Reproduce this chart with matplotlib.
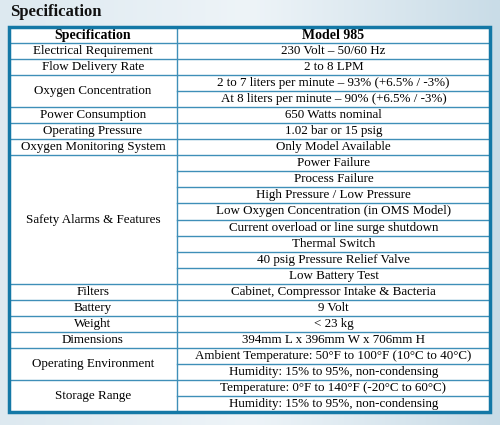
import matplotlib
matplotlib.use("Agg")
import matplotlib.pyplot as plt
import numpy as np

title = "Specification"
header = ["Specification", "Model 985"]
specs = ["Electrical Requirement", "Flow Delivery Rate", "Oxygen Concentration",
         "Power Consumption", "Operating Pressure", "Oxygen Monitoring System",
         "Safety Alarms & Features", "Filters", "Battery", "Weight", "Dimensions",
         "Operating Environment", "Storage Range"]
values = [
    ["230 Volt – 50/60 Hz"],
    ["2 to 8 LPM"],
    ["2 to 7 liters per minute – 93% (+6.5% / -3%)", "At 8 liters per minute – 90% (+6.5% / -3%)"],
    ["650 Watts nominal"],
    ["1.02 bar or 15 psig"],
    ["Only Model Available"],
    ["Power Failure", "Process Failure", "High Pressure / Low Pressure",
     "Low Oxygen Concentration (in OMS Model)", "Current overload or line surge shutdown",
     "Thermal Switch", "40 psig Pressure Relief Valve", "Low Battery Test"],
    ["Cabinet, Compressor Intake & Bacteria"],
    ["9 Volt"],
    ["< 23 kg"],
    ["394mm L x 396mm W x 706mm H"],
    ["Ambient Temperature: 50°F to 100°F (10°C to 40°C)", "Humidity: 15% to 95%, non-condensing"],
    ["Temperature: 0°F to 140°F (-20°C to 60°C)", "Humidity: 15% to 95%, non-condensing"],
]

W, H = 500, 425
fig = plt.figure(figsize=(W/100, H/100), dpi=100)
ax = fig.add_axes([0, 0, 1, 1])
ax.set_xlim(0, W); ax.set_ylim(H, 0); ax.axis("off")

grad = np.linspace(0, 1, 256).reshape(1, -1)
from matplotlib.colors import LinearSegmentedColormap
cm = LinearSegmentedColormap.from_list("bg", ["#dde9f0", "#eef4f8", "#c9dce7"])
ax.imshow(grad, extent=[0, W, H, 0], aspect="auto", cmap=cm, zorder=0)

font = "Liberation Serif"
ax.text(10, 12, title, fontsize=12, fontweight="bold", family=font, va="center", ha="left", color="#111")

L, R, T, B, C = 9, 490, 27, 412, 177
nrows = 1 + sum(len(v) for v in values)
rh = (B - T) / nrows
ax.add_patch(plt.Rectangle((L, T), R-L, B-T, facecolor="white", edgecolor="none", zorder=1))
grid = "#3f8fb8"
fs = 9.4
y = T
ax.text((L+C)/2, y+rh/2, header[0], fontsize=fs+0.6, fontweight="bold", family=font, ha="center", va="center", zorder=3)
ax.text((C+R)/2, y+rh/2, header[1], fontsize=fs+0.6, fontweight="bold", family=font, ha="center", va="center", zorder=3)
y += rh
ax.plot([L, R], [y, y], color=grid, lw=1, zorder=2)
for s, vals in zip(specs, values):
    n = len(vals)
    ax.text((L+C)/2, y+n*rh/2, s, fontsize=fs, family=font, ha="center", va="center", zorder=3)
    for i, v in enumerate(vals):
        ax.text((C+R)/2, y+(i+0.5)*rh, v, fontsize=fs, family=font, ha="center", va="center", zorder=3)
        if i < n-1:
            ax.plot([C, R], [y+(i+1)*rh]*2, color=grid, lw=1, zorder=2)
    y += n*rh
    ax.plot([L, R], [y, y], color=grid, lw=1, zorder=2)
ax.plot([C, C], [T, B], color=grid, lw=1, zorder=2)
ax.add_patch(plt.Rectangle((L, T), R-L, B-T, facecolor="none", edgecolor="#1478a6", lw=2.5, zorder=4))
fig.savefig("out.png", dpi=100)
